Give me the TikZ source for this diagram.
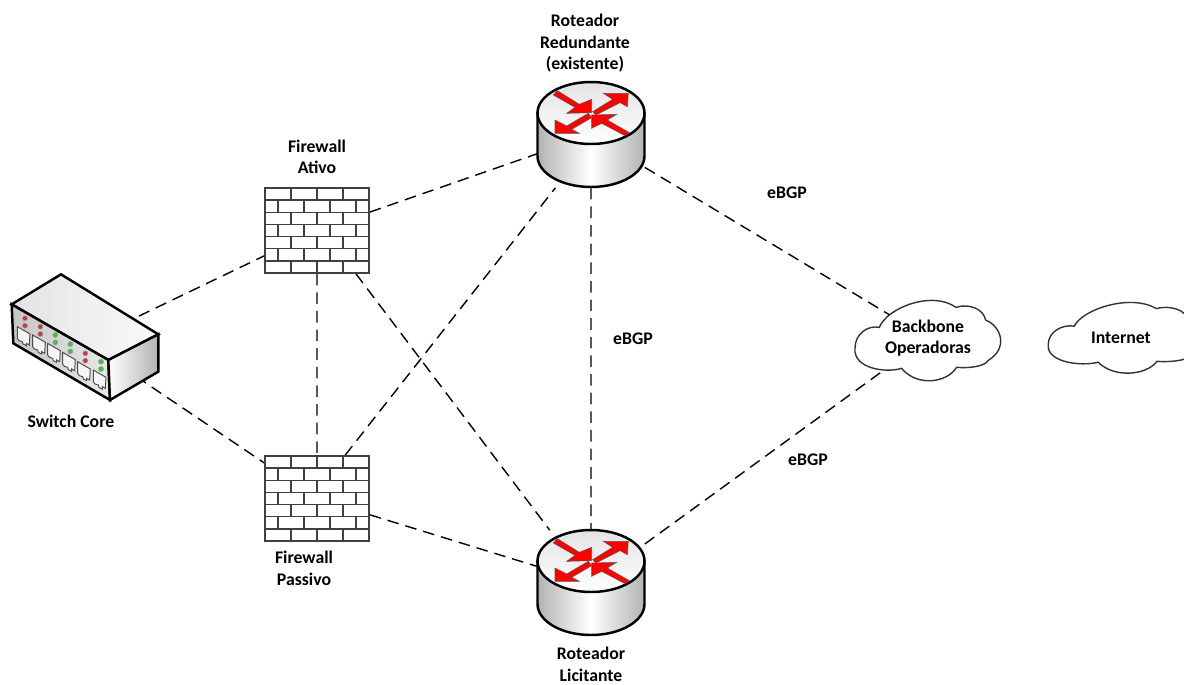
\documentclass[tikz,border=0pt]{standalone}
\usepackage{fontspec}
\setmainfont{Carlito}
\usetikzlibrary{positioning,backgrounds}

%% red arrows and barrel of the router, #1 is the node it sits on
\newcommand{\routericon}[1]{
  \begin{scope}[shift={(#1.center)}]
    \draw[rimline,left color=gray!60,right color=gray!60,middle color=white]
      (-53.5,-22) -- (-53.5,21) arc[start angle=180,end angle=360,x radius=1.07cm,y radius=0.62cm] -- (53.5,-22) -- cycle;
    \draw[rimline,top color=gray!22,bottom color=white] (0,-22) ellipse[x radius=1.07cm,y radius=0.62cm];
    \begin{scope}[shift={(-71,-65)},x=0.02cm/3,y=-0.02cm/3]
      \draw[redarrow] (112,62) -- (178,103) -- (215,88) -- (215,128) -- (140,130) -- (165,112) -- (100,75) -- cycle;
      \draw[redarrow] (218,125) -- (278,88) -- (250,70) -- (325,70) -- (322,110) -- (300,98) -- (228,135) -- cycle;
      \draw[redarrow] (205,130) -- (140,168) -- (105,150) -- (105,190) -- (178,190) -- (155,178) -- (215,143) -- cycle;
      \draw[redarrow] (215,135) -- (290,133) -- (262,150) -- (328,188) -- (315,197) -- (245,160) -- (215,175) -- cycle;
    \end{scope}
  \end{scope}
}
%% #1 centre, #2 and #3 the scales
\newcommand{\cloudicon}[3]{
  \begin{scope}[shift={(#1)},x=0.02cm/3*#2,y=-0.02cm/3*#3]
    \draw[cloudline,shift={(-250,-165)}] (103,127) .. controls (125,70) and (260,15) .. (333,67)
      .. controls (370,55) and (415,70) .. (422,105)
      .. controls (470,125) and (490,190) .. (430,226)
      .. controls (420,245) and (370,250) .. (335,247)
      .. controls (305,295) and (215,305) .. (170,250)
      .. controls (120,265) and (25,250) .. (30,190)
      .. controls (30,145) and (70,120) .. (103,127) -- cycle;
  \end{scope}
}

\begin{document}
\begin{tikzpicture}[x=0.02cm,y=-0.02cm]
    \tikzset{lbl/.style={align=center,inner sep=0pt,font=\fontsize{10.1}{12.3}\selectfont\bfseries},
        link/.style={draw,dash pattern=on 6.6pt off 4pt,line width=0.8pt},
        rimline/.style={line width=1.4pt,draw=black},
        redarrow/.style={fill=red,draw=gray!70!black,line width=0.3pt},
        cloudline/.style={draw=black!80,line width=0.8pt,fill=white},
        iconbox/.style={inner sep=0pt,minimum width=2.14cm,minimum height=2.1cm},
        smallbox/.style={inner sep=0pt,minimum width=0.8cm,minimum height=0.6cm},
        brickwall/.style={draw=black!75,fill=white,line width=0.85pt,inner sep=0pt,minimum width=2.08cm,minimum height=1.7cm,
          path picture={
            \foreach \row in {1,...,6}
              \draw[black!75,line width=0.85pt] ([yshift=\row*-0.2429cm]path picture bounding box.north west) -- ([yshift=\row*-0.2429cm]path picture bounding box.north east);
            \foreach \row in {0,2,4,6} \foreach \col in {1,2,3}
              \draw[black!75,line width=0.85pt] ([xshift=\col*0.52cm,yshift=\row*-0.2429cm]path picture bounding box.north west) -- ++(0,-0.2429cm);
            \foreach \row in {1,3,5} \foreach \col in {0,1,2,3}
              \draw[black!75,line width=0.85pt] ([xshift=0.26cm+\col*0.52cm,yshift=\row*-0.2429cm]path picture bounding box.north west) -- ++(0,-0.2429cm);
          }},
        }
    \path[use as bounding box,clip] (0,0) rectangle (1184,684);

    \node [smallbox] (swcore) at (85,342) {};
    \node [brickwall] (fwativo) at (317,230.5) {};
    \node [brickwall] (fwpassivo) at (317,498.5) {};
    \node [iconbox] (rtred) at (591,135) {};
    \node [iconbox] (rtlic) at (591,583) {};

    \cloudicon{928.3,340}{1}{1}
    \cloudicon{1126.7,337.3}{1.07}{0.88}

    \node [lbl] (bbone) at (928,338) {Backbone\\Operadoras};
    \node [lbl] (inet) at (1121,338) {Internet};
    \node [lbl] (lblred) at (585,43.5) {Roteador\\Redundante\\(existente)};
    \node [lbl, above=0.26cm of fwativo] (lblativo) {Firewall\\Ativo};
    \node [lbl] (lblpassivo) at (304,568.5) {Firewall\\Passivo};
    \node [lbl, below=0.22cm of rtlic] (lbllic) {Roteador\\Licitante};
    \node [lbl] (lblcore) at (71,421) {Switch Core};
    \node [lbl] (bgpa) at (787,193) {eBGP};
    \node [lbl] (bgpb) at (633,339) {eBGP};
    \node [lbl] (bgpc) at (808,460) {eBGP};

%% paths
    \begin{scope}[on background layer]
        \path[link] (swcore) -- (fwativo)
                    (swcore) -- (fwpassivo)
                    (fwativo) -- (fwpassivo)
                    (fwativo) -- (rtred)
                    (fwativo.-48) -- (rtlic.128)
                    (fwpassivo.57) -- (rtred.-124)
                    (fwpassivo) -- (rtlic)
                    (rtred) -- (rtlic)
                    (rtred) -- (bbone)
                    (rtlic) -- (bbone)
                    ;
    \end{scope}

    \routericon{rtred}
    \routericon{rtlic}

%% switch, traced in thirds of a pixel
    \begin{scope}[shift={(0,285)},x=0.02cm/3,y=-0.02cm/3]
        \draw[rimline,left color=gray!22,right color=gray!4] (35,58) -- (183,-32) -- (475,148) -- (325,225) -- cycle;
        \draw[rimline,left color=gray!45,right color=gray!18] (35,58) -- (325,225) -- (330,345) -- (40,175) -- cycle;
        \draw[rimline,left color=white,right color=gray!60] (325,225) -- (475,148) -- (475,260) -- (330,345) -- cycle;
        \foreach \px/\py/\ledcol in {52/125/red,98/150/red,143/175/green,188/202/green,233/230/red,280/255/green} {
            \begin{scope}[shift={(\px,\py)}]
                \draw[black!70,fill=gray!8,line width=0.55pt] (0,0) -- (38,22) -- (36,55) -- (27,50) -- (27,57) -- (17,52) -- (15,45) -- (5,42) -- (0,35) -- cycle;
                \filldraw[draw=gray!80,fill=\ledcol!55!gray,line width=0.3pt] (23,-25) circle[radius=0.05cm];
                \filldraw[draw=gray!80,fill=\ledcol!55!gray,line width=0.3pt] (23,-3) circle[radius=0.05cm];
            \end{scope}
        }
    \end{scope}
\end{tikzpicture}
\end{document}
